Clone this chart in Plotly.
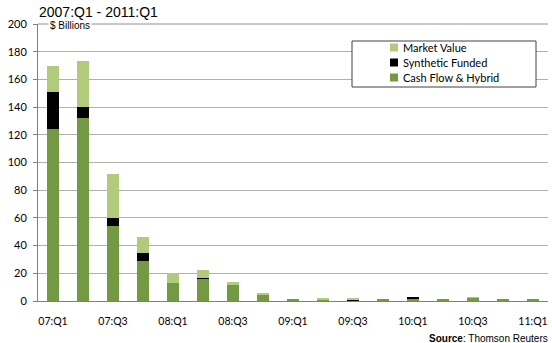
import plotly.graph_objects as go

# Quarterly issuance, $ billions
quarters = ["07:Q1", "07:Q2", "07:Q3", "07:Q4",
            "08:Q1", "08:Q2", "08:Q3", "08:Q4",
            "09:Q1", "09:Q2", "09:Q3", "09:Q4",
            "10:Q1", "10:Q2", "10:Q3", "10:Q4",
            "11:Q1"]
cash_flow_hybrid = [124, 132, 54.5, 29, 13, 16, 11.8, 4, 1, 1.2, 0.6, 1.4, 2.0, 1.4, 2.2, 1.4, 1.4]
synthetic_funded = [27, 8, 5.5, 5.5, 0, 0.8, 0, 0, 0, 0, 0.5, 0, 0.8, 0, 0, 0, 0]
market_value = [19, 33, 32, 11.5, 7, 5.3, 2.2, 1.5, 0, 1, 0.4, 0, 0, 0, 0.4, 0, 0]

tick_labels = quarters[::2]
y_ticks = list(range(0, 201, 20))

DARK_GREEN = "#739a42"
BLACK = "#000000"
LIGHT_GREEN = "#b2ca7b"
GRID = "#b0b0b0"

series = [
    ("Cash Flow & Hybrid", cash_flow_hybrid, DARK_GREEN),
    ("Synthetic Funded", synthetic_funded, BLACK),
    ("Market Value", market_value, LIGHT_GREEN),
]

fig = go.Figure()
for name, vals, color in series:
    fig.add_trace(go.Bar(
        x=quarters, y=vals, name=name,
        marker=dict(color=color, line=dict(width=0)),
        showlegend=False,
    ))

fig.update_layout(
    width=552, height=343,
    margin=dict(l=38, r=4, t=24, b=42),
    barmode="stack",
    bargap=0.57,
    plot_bgcolor="white",
    paper_bgcolor="white",
    font=dict(family="Lato, Liberation Sans, sans-serif", size=11, color="#000000"),
    xaxis=dict(
        type="category",
        tickmode="array", tickvals=tick_labels, ticktext=tick_labels,
        showgrid=False, ticks="", showline=True, linecolor="#808080", linewidth=1,
        tickfont=dict(size=10.5),
        ticklabelstandoff=10,
    ),
    yaxis=dict(
        range=[0, 200], tickvals=y_ticks,
        showgrid=True, gridcolor=GRID, gridwidth=1,
        showline=True, linecolor="#808080", linewidth=1,
        ticks="outside", ticklen=4, tickcolor="#808080",
        zeroline=False,
        tickfont=dict(size=11),
        ticklabelstandoff=4,
    ),
)

# Top gridline along the upper edge of the plot area
fig.add_shape(type="line", xref="paper", yref="paper", x0=0, x1=1, y0=1, y1=1,
              line=dict(color="#909090", width=1), layer="above")

# Legend box drawn as shapes and text
lx0, lx1, ly0, ly1 = 352, 536, 41, 87
fig.add_shape(type="rect", xref="paper", yref="paper",
              x0=(lx0 - 38) / 510, x1=(lx1 - 38) / 510,
              y0=(301 - ly1) / 277, y1=(301 - ly0) / 277,
              line=dict(color="#404040", width=1), fillcolor="white", layer="above")
legend_rows = [("Market Value", LIGHT_GREEN, 47.5), ("Synthetic Funded", BLACK, 62.5),
               ("Cash Flow & Hybrid", DARK_GREEN, 77.5)]
for label, color, yc in legend_rows:
    fig.add_shape(type="rect", xref="paper", yref="paper",
                  x0=(390 - 38) / 510, x1=(398 - 38) / 510,
                  y0=(301 - (yc + 4)) / 277, y1=(301 - (yc - 4)) / 277,
                  line=dict(width=0), fillcolor=color, layer="above")
    fig.add_annotation(xref="paper", yref="paper",
                       x=(401 - 38) / 510, y=(301 - yc) / 277,
                       text=label, showarrow=False, xanchor="left", yanchor="middle",
                       font=dict(family="Lato, sans-serif", size=11, color="#000000"))

# Unit label sitting on the top gridline
fig.add_annotation(xref="paper", yref="paper", x=(48 - 38) / 510, y=(301 - 25.5) / 277,
                   text="$ Billions", showarrow=False, xanchor="left", yanchor="middle",
                   bgcolor="white", borderpad=1,
                   font=dict(family="Liberation Sans, Arial, sans-serif", size=10, color="#000000"))

# Period subtitle
fig.add_annotation(xref="paper", yref="paper", x=(37 - 38) / 510, y=(301 - 12) / 277,
                   text="2007:Q1 - 2011:Q1", showarrow=False, xanchor="left", yanchor="middle",
                   font=dict(family="Liberation Sans, Arial, sans-serif", size=14, color="#000000"))

# Source note
fig.add_annotation(xref="paper", yref="paper", x=(550 - 38) / 510, y=(301 - 338) / 277,
                   text="<b>Source</b>: Thomson Reuters", showarrow=False,
                   xanchor="right", yanchor="middle",
                   font=dict(family="Liberation Sans, Arial, sans-serif", size=10, color="#000000"))

fig.write_html("out.html")
